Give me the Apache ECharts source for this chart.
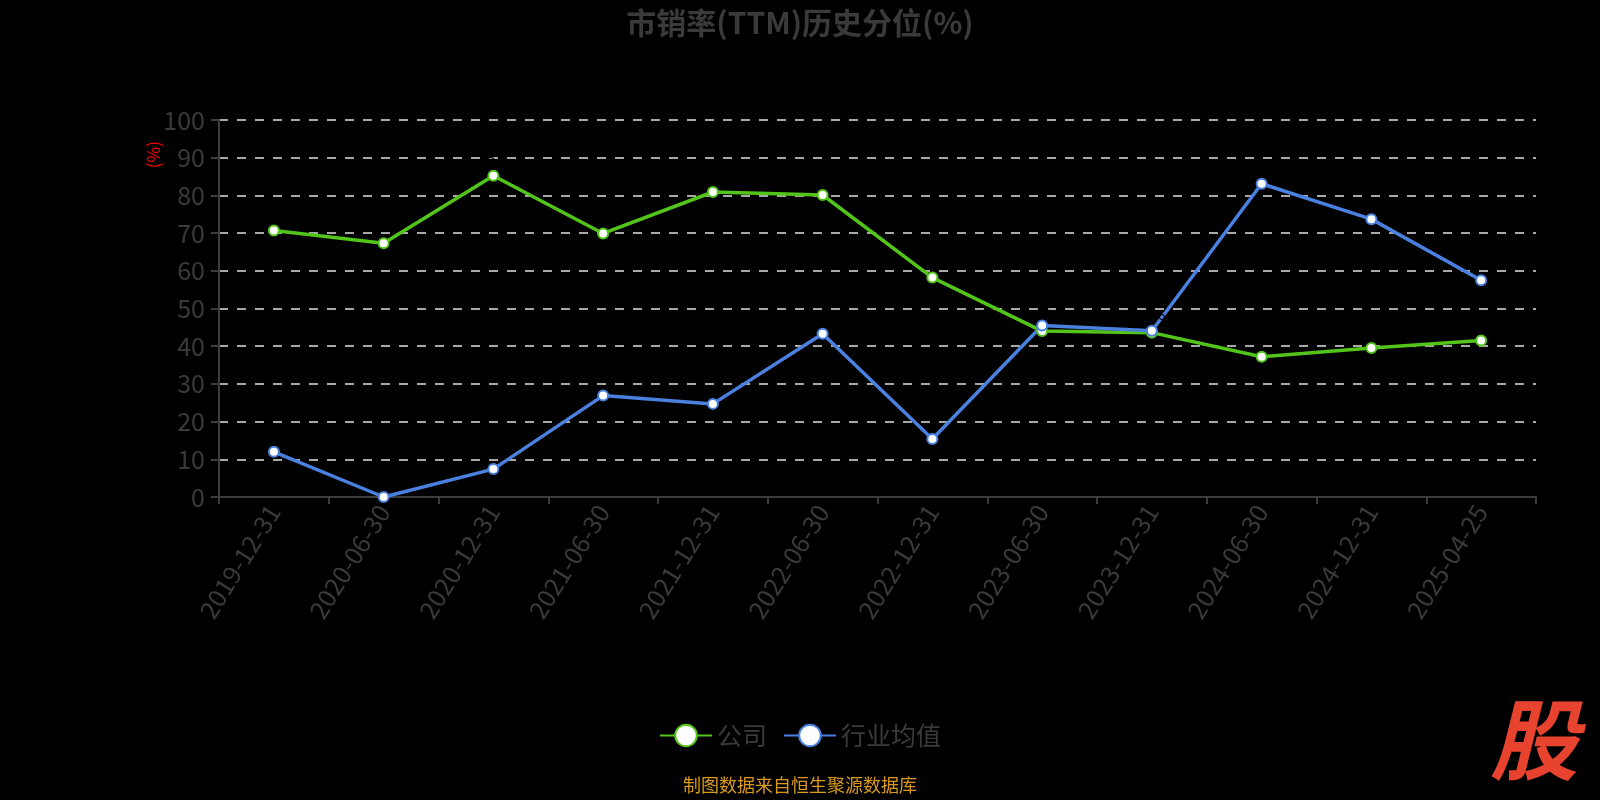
<!DOCTYPE html>
<html><head><meta charset="utf-8">
<script src="https://cdn.jsdelivr.net/npm/echarts@6/dist/echarts.min.js"></script>
<style>html,body{margin:0;padding:0;background:#000;}#c{width:1600px;height:800px;}</style>
</head><body><div id="c"></div>
<script>
const categories = ['2019-12-31','2020-06-30','2020-12-31','2021-06-30','2021-12-31','2022-06-30','2022-12-31','2023-06-30','2023-12-31','2024-06-30','2024-12-31','2025-04-25'];
const companyValues = [70.7, 67.3, 85.2, 69.9, 80.9, 80.1, 58.2, 44.0, 43.6, 37.2, 39.5, 41.5];
const industryValues = [12.0, 0.0, 7.4, 26.9, 24.7, 43.3, 15.4, 45.5, 44.1, 83.1, 73.7, 57.5];
const yTicks = [0, 10, 20, 30, 40, 50, 60, 70, 80, 90, 100];
const seriesNames = ['公司', '行业均值'];

const font = '"Noto Sans CJK SC", "Noto Sans", sans-serif';
const chart = echarts.init(document.getElementById('c'));
chart.setOption({
  backgroundColor: '#000',
  animation: false,
  title: {
    text: '市销率(TTM)历史分位(%)', left: 'center', top: 3,
    textStyle: {color: '#3a3a3a', fontSize: 30, fontWeight: 'bold', fontFamily: font}
  },
  legend: {
    data: seriesNames, bottom: 47, left: 'center', itemWidth: 52, itemHeight: 27, itemGap: 16,
    textStyle: {color: '#3a3a3a', fontSize: 25, fontFamily: font}
  },
  grid: {left: 219, right: 64, top: 120, bottom: 303},
  xAxis: {
    type: 'category', data: categories, boundaryGap: true,
    axisLine: {lineStyle: {color: '#3c3c3c', width: 2}},
    axisTick: {show: true, length: 7, lineStyle: {color: '#3c3c3c', width: 2}},
    axisLabel: {rotate: 58, color: '#3a3a3a', fontSize: 25, fontFamily: font, margin: 10, interval: 0}
  },
  yAxis: {
    type: 'value', min: yTicks[0], max: yTicks[yTicks.length - 1], interval: 10,
    axisLine: {show: true, lineStyle: {color: '#3c3c3c', width: 2}},
    axisTick: {show: true, length: 8, lineStyle: {color: '#3c3c3c', width: 2}},
    axisLabel: {color: '#3a3a3a', fontSize: 25, fontFamily: font, margin: 14},
    splitLine: {lineStyle: {color: '#e0e0e0', type: [9, 9], width: 1.5}}
  },
  series: [
    {
      name: seriesNames[0], type: 'line', data: companyValues,
      symbol: 'circle', symbolSize: 10, showAllSymbol: true,
      lineStyle: {color: '#52c41a', width: 3.5},
      itemStyle: {color: '#fff', borderColor: '#52c41a', borderWidth: 2},
      label: {show: true, position: 'top', color: '#000', fontSize: 14, fontFamily: font}
    },
    {
      name: seriesNames[1], type: 'line', data: industryValues,
      symbol: 'circle', symbolSize: 10, showAllSymbol: true,
      lineStyle: {color: '#4a80e0', width: 3.5},
      itemStyle: {color: '#fff', borderColor: '#4a80e0', borderWidth: 2}
    }
  ],
  graphic: [
    {type: 'text', left: 145, top: 141, rotation: Math.PI / 2,
     style: {text: '(%)', fill: '#ff0000', fontSize: 17, fontFamily: font}},
    {type: 'text', left: 'center', top: 776,
     style: {text: '制图数据来自恒生聚源数据库', fill: '#d99a1c', fontSize: 18, fontFamily: font}},
    {type: 'text', left: 1490, top: 696,
     style: {text: '股', fill: '#e8432e', fontSize: 88, fontWeight: 'bold', fontStyle: 'italic', fontFamily: font}}
  ]
});
</script></body></html>
